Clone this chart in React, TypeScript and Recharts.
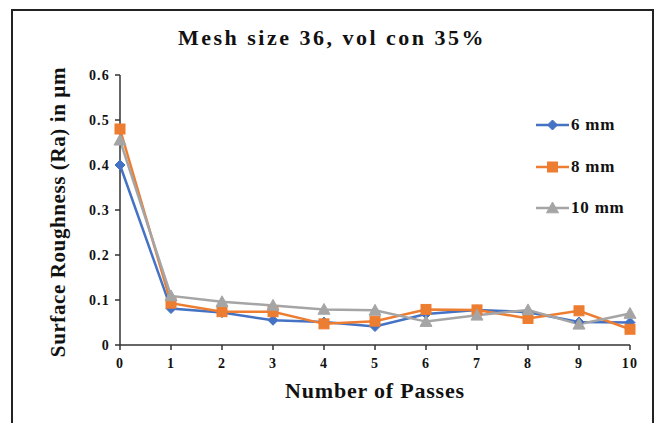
import React from 'react';
import { LineChart, Line, XAxis, YAxis } from 'recharts';

const passes = [0, 1, 2, 3, 4, 5, 6, 7, 8, 9, 10];
const ra6mm = [0.4, 0.081, 0.072, 0.055, 0.051, 0.041, 0.069, 0.078, 0.073, 0.051, 0.05];
const ra8mm = [0.48, 0.093, 0.074, 0.074, 0.047, 0.053, 0.079, 0.078, 0.059, 0.076, 0.035];
const ra10mm = [0.455, 0.109, 0.096, 0.088, 0.079, 0.077, 0.052, 0.066, 0.078, 0.046, 0.07];
const yTicks = [0, 0.1, 0.2, 0.3, 0.4, 0.5, 0.6];
const seriesNames = ['6 mm', '8 mm', '10 mm'];
const seriesColors = ['#4472C4', '#ED7D31', '#A5A5A5'];
const seriesShapes = ['diamond', 'square', 'triangle'];

const data = passes.map((p, i) => ({ pass: p, s6: ra6mm[i], s8: ra8mm[i], s10: ra10mm[i] }));
const keys = ['s6', 's8', 's10'];

const FONT = "'Liberation Serif', 'Times New Roman', serif";

function Marker({ shape, cx, cy, color }: { shape: string; cx: number; cy: number; color: string }) {
  if (shape === 'diamond') {
    const r = 5;
    return <polygon points={`${cx},${cy - r} ${cx + r},${cy} ${cx},${cy + r} ${cx - r},${cy}`} fill={color} stroke={color} />;
  }
  if (shape === 'square') {
    const r = 5;
    return <rect x={cx - r} y={cy - r} width={2 * r} height={2 * r} fill={color} stroke={color} />;
  }
  const r = 6;
  return <polygon points={`${cx},${cy - r} ${cx + r},${cy + r * 0.8} ${cx - r},${cy + r * 0.8}`} fill={color} stroke={color} />;
}

const makeDot = (shape: string, color: string) => (props: any) => {
  const { cx, cy, index } = props;
  if (cx == null || cy == null) return <g key={`d${index}`} />;
  return <Marker key={`d${index}`} shape={shape} cx={cx} cy={cy} color={color} />;
};

const tickStyle = { fontFamily: FONT, fontWeight: 700, fontSize: 14, fill: '#111', letterSpacing: 1.2 };

export default function App() {
  return (
    <div style={{ position: 'absolute', left: 0, top: 0, width: 656, height: 423, background: '#fff', overflow: 'hidden' }}>
      <div
        style={{
          position: 'absolute',
          left: 11,
          top: 9,
          width: 643,
          height: 430,
          border: '2px solid #222',
          borderBottom: 'none',
          boxSizing: 'border-box',
        }}
      />
      <div
        style={{
          position: 'absolute',
          left: 0,
          width: 664,
          top: 24,
          textAlign: 'center',
          fontFamily: FONT,
          fontWeight: 700,
          fontSize: 22,
          letterSpacing: 2.5,
          color: '#111',
          lineHeight: '28px',
        }}
      >
        Mesh size 36, vol con 35%
      </div>
      <LineChart width={656} height={423} data={data} margin={{ top: 75, right: 26, bottom: 0, left: 0 }} style={{ position: 'absolute', left: 0, top: 0 }}>
        <XAxis
          dataKey="pass"
          type="number"
          domain={[0, 10]}
          ticks={passes}
          height={78}
          tickSize={5}
          tickMargin={8}
          axisLine={{ stroke: '#333', strokeWidth: 1.5 }}
          tickLine={{ stroke: '#333', strokeWidth: 1.5 }}
          tick={tickStyle}
          label={(props: any) => (
            <text x={375} y={398} textAnchor="middle" style={{ fontFamily: FONT, fontWeight: 700, fontSize: 22, letterSpacing: 0.8 }} fill="#111">
              Number of Passes
            </text>
          )}
        />
        <YAxis
          type="number"
          domain={[0, 0.6]}
          ticks={yTicks}
          width={120}
          tickSize={5}
          tickMargin={5}
          axisLine={{ stroke: '#333', strokeWidth: 1.5 }}
          tickLine={{ stroke: '#333', strokeWidth: 1.5 }}
          tick={tickStyle}
          tickFormatter={(v: number) => (v === 0 ? '0' : v.toFixed(1))}
          label={(props: any) => (
            <text x={65} y={212} transform="rotate(-90 65 212)" textAnchor="middle" style={{ fontFamily: FONT, fontWeight: 700, fontSize: 21, letterSpacing: 0.6 }} fill="#111">
              Surface Roughness (Ra) in µm
            </text>
          )}
        />
        {keys.map((k, i) => (
          <Line
            key={k}
            dataKey={k}
            name={seriesNames[i]}
            stroke={seriesColors[i]}
            strokeWidth={2.5}
            type="linear"
            isAnimationActive={false}
            dot={makeDot(seriesShapes[i], seriesColors[i])}
            activeDot={false}
          />
        ))}
      </LineChart>
      {seriesNames.map((n, i) => (
        <div key={n} style={{ position: 'absolute', left: 536, top: [114, 156, 197][i], height: 22, display: 'flex', alignItems: 'center' }}>
          <svg width={33} height={22}>
            <line x1={0} y1={11} x2={33} y2={11} stroke={seriesColors[i]} strokeWidth={2.5} />
            <Marker shape={seriesShapes[i]} cx={16.5} cy={11} color={seriesColors[i]} />
          </svg>
          <span style={{ marginLeft: 2, fontFamily: FONT, fontWeight: 700, fontSize: 17, letterSpacing: 0.8, color: '#111' }}>{n}</span>
        </div>
      ))}
    </div>
  );
}
